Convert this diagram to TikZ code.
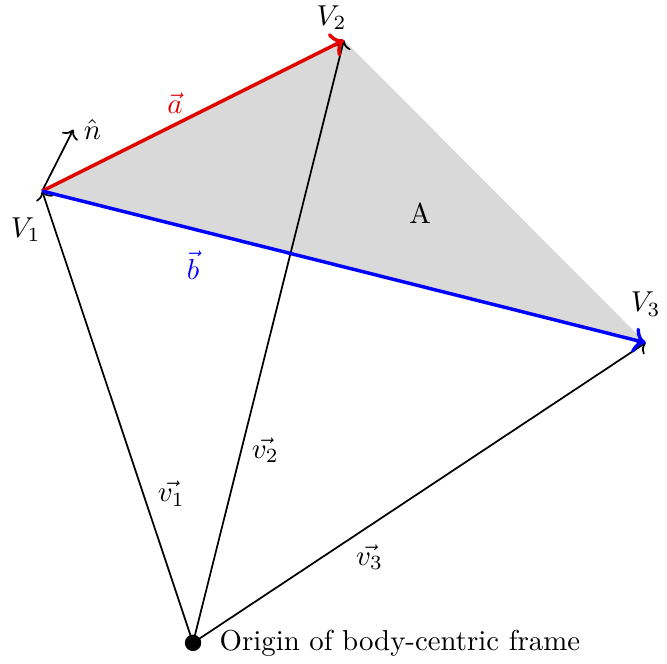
\documentclass[tikz,border=0pt]{standalone}
\usepackage{amsmath}
\usepackage{tikz}
\usetikzlibrary{arrows.meta,positioning}

\begin{document}
\begin{tikzpicture}[node distance=2mm,
   posvec/.style={->,semithick},
   edgevec/.style={->,very thick}]
  \useasboundingbox (-2.354,-0.256) rectangle (5.78,7.84);
  \coordinate (O) at (0,0);
  \coordinate (V1) at (-1.84,5.51);
  \coordinate (V2) at (1.84,7.35);
  \coordinate (V3) at (5.52,3.66);
  \coordinate (n) at (-1.46,6.26);
  \fill[gray!30] (V1) -- (V2) -- (V3) -- cycle;
  \node at (2.77,5.24) {A};
  \draw[posvec] (O) -- node[right=0.5mm,pos=0.33] {$\vec{v_1}$} (V1);
  \draw[posvec] (O) -- node[right,pos=0.32] {$\vec{v_2}$} (V2);
  \draw[posvec] (O) -- node[below=1mm,pos=0.39] {$\vec{v_3}$} (V3);
  \draw[posvec] (V1) -- (n) node[right] {$\hat{n}$};
  \draw[edgevec,red!90!black] (V1) -- node[above,pos=0.44] {$\vec{a}$} (V2);
  \draw[edgevec,blue] (V1) -- node[below=1.3mm,pos=0.25] {$\vec{b}$} (V3);
  \fill (O) circle (0.1);
  \node[right=of O] (orig) {Origin of body-centric frame};
  \node[below=of V1,xshift=-2mm] (l1) {$V_1$};
  \node[above=0mm of V2,xshift=-1.5mm] (l2) {$V_2$};
  \node[above=of V3] (l3) {$V_3$};
\end{tikzpicture}
\end{document}
